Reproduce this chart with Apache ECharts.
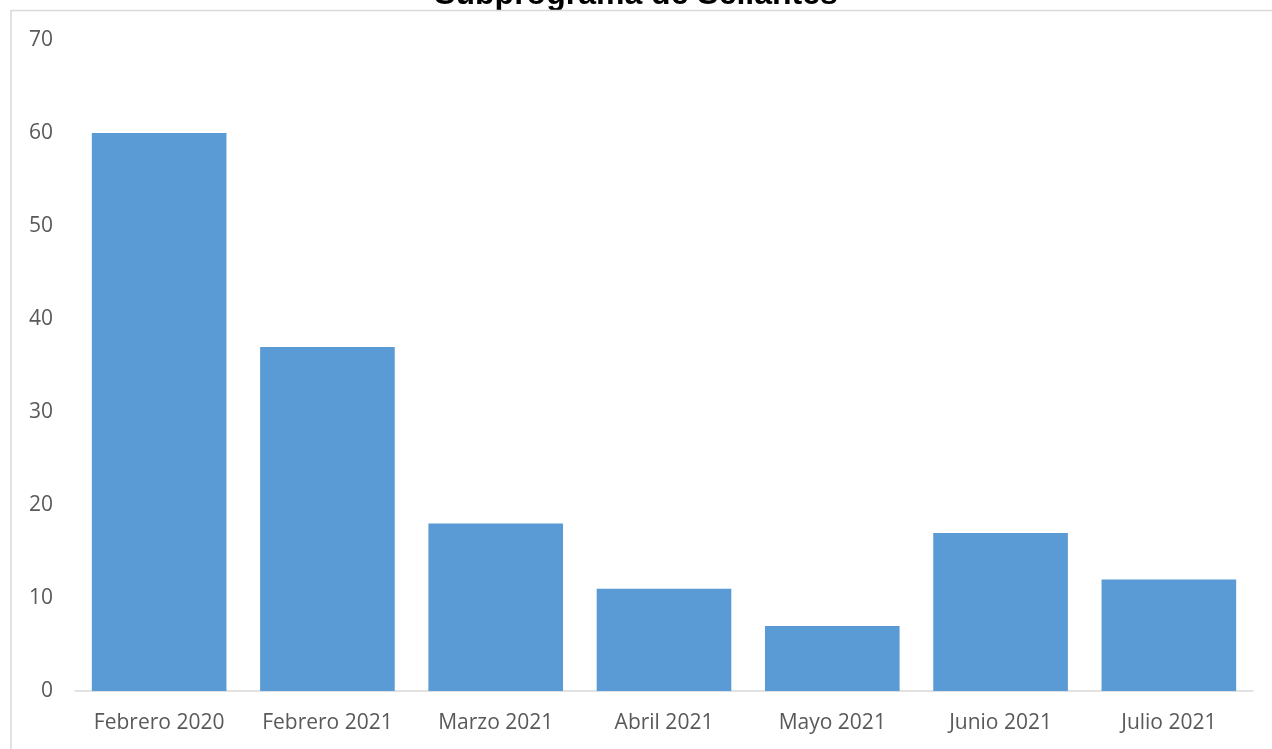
<!DOCTYPE html>
<html><head><meta charset="utf-8">
<script src="https://cdn.jsdelivr.net/npm/echarts@6/dist/echarts.min.js"></script>
<style>html,body{margin:0;padding:0;background:#fff}#c{width:1272px;height:749px}</style>
</head><body><div id="c"></div>
<script>
const categories = ['Febrero 2020','Febrero 2021','Marzo 2021','Abril 2021','Mayo 2021','Junio 2021','Julio 2021'];
const values = [60, 37, 18, 11, 7, 17, 12];
const titleText = 'Subprograma de Sellantes';

const chart = echarts.init(document.getElementById('c'));
chart.setOption({
  animation: false,
  title: {
    text: titleText, left: 'center', top: -26,
    textStyle: {fontFamily: 'Liberation Sans, Arial', fontWeight: 'bold', fontSize: 32, color: '#000'}
  },
  graphic: [{
    type: 'rect', silent: true, z: 100,
    shape: {x: 11, y: 10.5, width: 1300, height: 800},
    style: {fill: 'none', stroke: '#d9d9d9', lineWidth: 1.5}
  }],
  grid: {left: 75, right: 19, top: 40, bottom: 58},
  xAxis: {
    type: 'category', data: categories,
    axisLine: {lineStyle: {color: '#d9d9d9', width: 1.5}},
    axisTick: {show: false},
    axisLabel: {interval: 0, color: '#595959', fontSize: 21, fontFamily: 'Open Sans, Carlito, sans-serif', margin: 22}
  },
  yAxis: {
    type: 'value', min: 0, max: 70, interval: 10,
    splitLine: {show: false},
    axisLine: {show: false}, axisTick: {show: false},
    axisLabel: {color: '#595959', fontSize: 21, fontFamily: 'Open Sans, Carlito, sans-serif', margin: 22}
  },
  series: [{
    type: 'bar', data: values, barCategoryGap: '20%',
    itemStyle: {color: '#5b9bd5'}
  }]
});
</script></body></html>
